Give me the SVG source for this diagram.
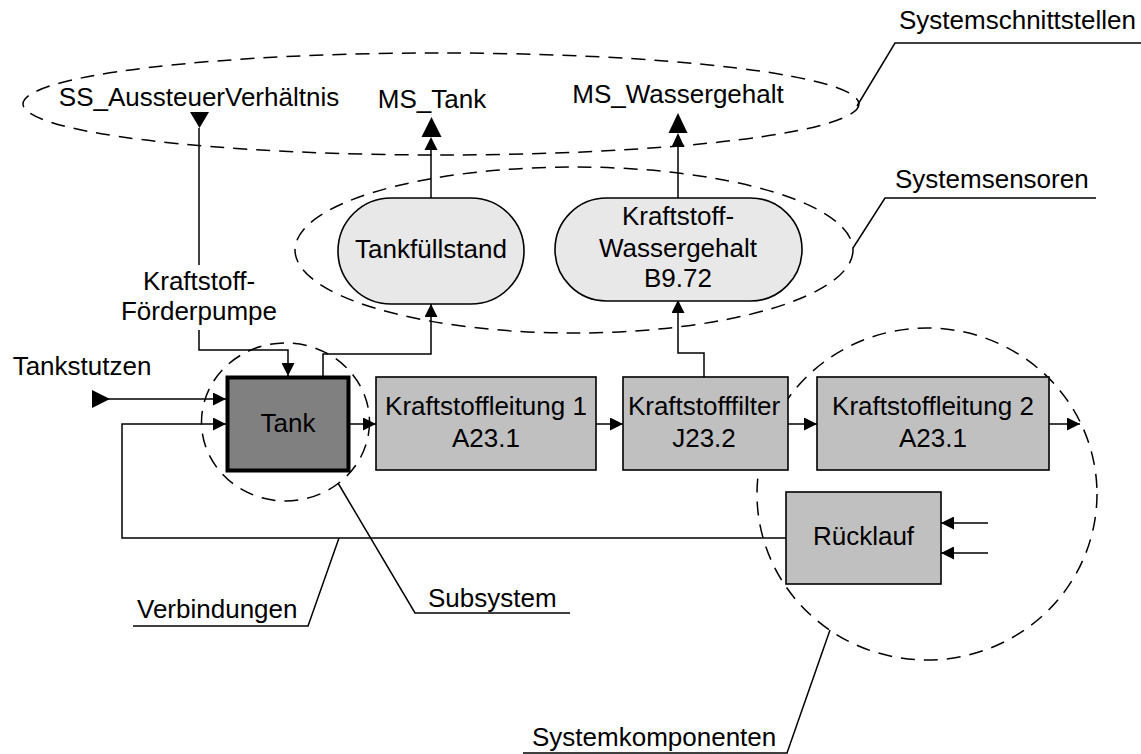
<svg xmlns="http://www.w3.org/2000/svg" width="1141" height="754" viewBox="0 0 1141 754">
  <style>
    text { font-family: "Liberation Sans", Arial, sans-serif; font-size: 26px; fill: #000; }
    .c { text-anchor: middle; }
    .box { fill: #c0c0c0; stroke: #000; stroke-width: 1.6; }
    .sensor { fill: #e8e8e8; stroke: #000; stroke-width: 1.6; }
    .line { fill: none; stroke: #000; stroke-width: 1.5; }
    .dash { fill: none; stroke: #000; stroke-width: 1.5; stroke-dasharray: 14 9; }
    .head { fill: #000; stroke: none; }
  </style>
  <defs>
    <marker id="arr" markerUnits="userSpaceOnUse" markerWidth="13" markerHeight="13" refX="13" refY="6.5" orient="auto">
      <path d="M0,0 L13,6.5 L0,13 Z" fill="#000"/>
    </marker>
  </defs>

  <rect width="1141" height="754" fill="#fff"/>

  <!-- grouping outlines -->
  <g id="groups">
    <ellipse class="dash" cx="441" cy="104" rx="418" ry="51"/>
    <ellipse class="dash" cx="574" cy="250" rx="279" ry="83"/>
    <ellipse class="dash" cx="285.5" cy="422" rx="84" ry="79"/>
    <ellipse class="dash" cx="927" cy="494" rx="170" ry="166"/>
  </g>

  <!-- connectors -->
  <g id="connectors">
    <!-- SS_AussteuerVerhältnis -> Kraftstoff-Förderpumpe -> Tank -->
    <polygon class="head" points="190,112 209,112 199.5,128"/>
    <line class="line" x1="199" y1="128" x2="199" y2="265"/>
    <polyline class="line" points="199,330 199,350 288,350 288,376" marker-end="url(#arr)"/>
    <!-- Tankstutzen -> Tank -->
    <polygon class="head" points="92,390 110,399 92,408"/>
    <line class="line" x1="108" y1="399" x2="226" y2="399" marker-end="url(#arr)"/>
    <!-- Rücklauf -> Tank -->
    <polyline class="line" points="786,538 122,538 122,424 226,424" marker-end="url(#arr)"/>
    <!-- Tank -> Tankfüllstand -->
    <polyline class="line" points="323,376 323,354 431,354 431,304" marker-end="url(#arr)"/>
    <!-- Tankfüllstand -> MS_Tank -->
    <line class="line" x1="431" y1="198" x2="431" y2="150"/>
    <polygon class="head" points="424.5,150 437.5,150 431,137"/>
    <polygon class="head" points="421.5,137 441.5,137 431.5,117"/>
    <!-- Kraftstofffilter -> Kraftstoff-Wassergehalt -->
    <polyline class="line" points="704,377 704,353 678,353 678,300" marker-end="url(#arr)"/>
    <!-- Kraftstoff-Wassergehalt -> MS_Wassergehalt -->
    <line class="line" x1="678" y1="198" x2="678" y2="147"/>
    <polygon class="head" points="671.5,147 684.5,147 678,133"/>
    <polygon class="head" points="668.5,133 687.5,133 678,113"/>
    <!-- main fuel path -->
    <line class="line" x1="349" y1="424" x2="376" y2="424" marker-end="url(#arr)"/>
    <line class="line" x1="596" y1="424" x2="623" y2="424" marker-end="url(#arr)"/>
    <line class="line" x1="788" y1="424" x2="817" y2="424" marker-end="url(#arr)"/>
    <line class="line" x1="1049" y1="424" x2="1080" y2="424" marker-end="url(#arr)"/>
    <!-- inputs into Rücklauf -->
    <line class="line" x1="988" y1="523" x2="941" y2="523" marker-end="url(#arr)"/>
    <line class="line" x1="988" y1="553" x2="941" y2="553" marker-end="url(#arr)"/>
  </g>

  <!-- nodes -->
  <g id="tank">
    <rect x="227.5" y="377.5" width="121" height="93" fill="#808080" stroke="#000" stroke-width="4"/>
    <text class="c" x="288" y="432">Tank</text>
  </g>
  <g id="kraftstoffleitung1">
    <rect class="box" x="376" y="377" width="220" height="93"/>
    <text class="c" x="486" y="415">Kraftstoffleitung 1</text>
    <text class="c" x="486" y="447">A23.1</text>
  </g>
  <g id="kraftstofffilter">
    <rect class="box" x="623" y="377" width="165" height="93"/>
    <text class="c" x="704" y="415">Kraftstofffilter</text>
    <text class="c" x="704" y="447">J23.2</text>
  </g>
  <g id="kraftstoffleitung2">
    <rect class="box" x="817" y="377" width="232" height="93"/>
    <text class="c" x="933" y="415">Kraftstoffleitung 2</text>
    <text class="c" x="933" y="447">A23.1</text>
  </g>
  <g id="ruecklauf">
    <rect class="box" x="786" y="492" width="155" height="92"/>
    <text class="c" x="863.5" y="545">Rücklauf</text>
  </g>
  <g id="tankfuellstand">
    <rect class="sensor" x="338" y="198" width="186" height="106" rx="53" ry="53"/>
    <text class="c" x="431" y="258">Tankfüllstand</text>
  </g>
  <g id="wassergehalt">
    <rect class="sensor" x="555" y="198" width="247" height="103" rx="51.5" ry="51.5"/>
    <text class="c" x="678" y="225">Kraftstoff-</text>
    <text class="c" x="678" y="257">Wassergehalt</text>
    <text class="c" x="678" y="287">B9.72</text>
  </g>

  <!-- interface and pump labels -->
  <g id="labels">
    <text class="c" x="199" y="106">SS_AussteuerVerhältnis</text>
    <text class="c" x="432" y="108">MS_Tank</text>
    <text class="c" x="678" y="103">MS_Wassergehalt</text>
    <text class="c" x="199" y="290">Kraftstoff-</text>
    <text class="c" x="199" y="320">Förderpumpe</text>
    <text class="c" x="82" y="375">Tankstutzen</text>
  </g>

  <!-- callouts -->
  <g id="callouts">
    <polyline class="line" points="1141,43 895,43 857,106"/>
    <text x="899" y="29">Systemschnittstellen</text>
    <polyline class="line" points="1096,198 885,198 853,248"/>
    <text x="895" y="188">Systemsensoren</text>
    <polyline class="line" points="133,626 308,626 339,538"/>
    <text x="137" y="618">Verbindungen</text>
    <polyline class="line" points="570,613 415,613 338,483"/>
    <text x="428" y="607">Subsystem</text>
    <polyline class="line" points="523,753 787,753 830,630"/>
    <text x="532" y="746">Systemkomponenten</text>
  </g>
</svg>
